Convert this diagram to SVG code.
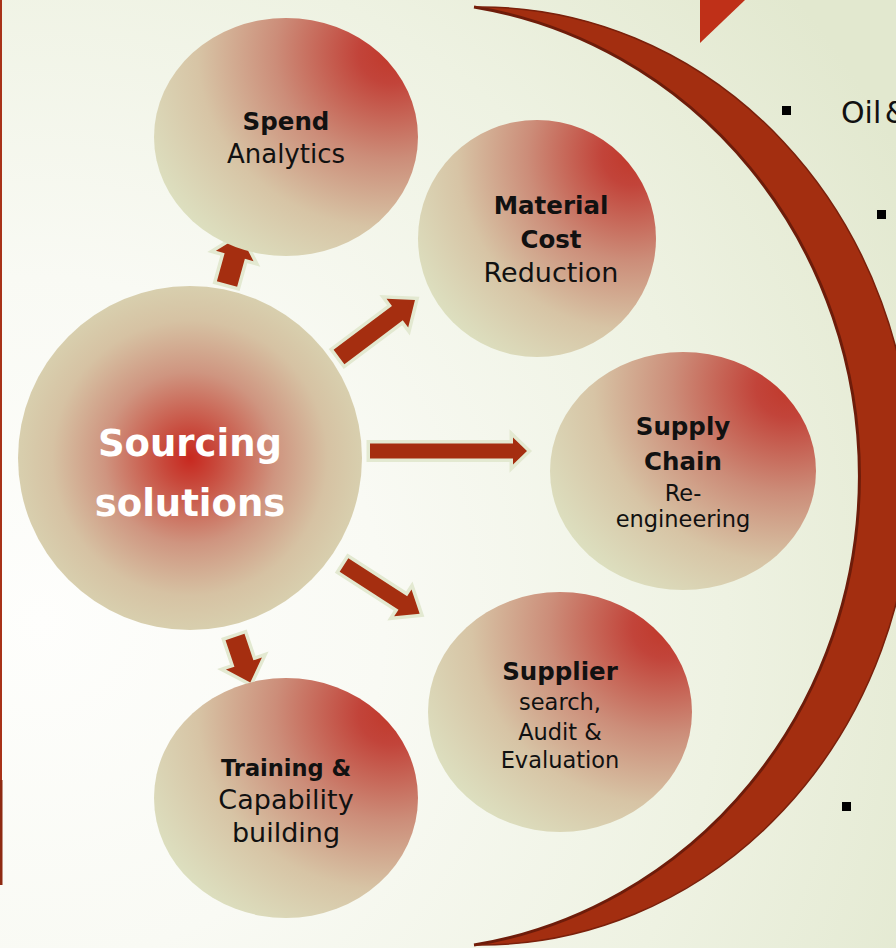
<svg xmlns="http://www.w3.org/2000/svg" width="896" height="948" viewBox="0 0 896 948">
<defs>
<radialGradient id="bg" cx="40" cy="620" r="980" gradientUnits="userSpaceOnUse">
<stop offset="0" stop-color="#fefefc"/>
<stop offset="0.35" stop-color="#f9faf4"/>
<stop offset="0.7" stop-color="#eef2e2"/>
<stop offset="1" stop-color="#e2e8cf"/>
</radialGradient>
<radialGradient id="small" cx="0.9" cy="0.15" r="1.05" fx="0.9" fy="0.15">
<stop offset="0" stop-color="#c0392b"/>
<stop offset="0.12" stop-color="#c2443a"/>
<stop offset="0.42" stop-color="#cc8d79"/>
<stop offset="0.7" stop-color="#d7c4a5"/>
<stop offset="1" stop-color="#dde1c1"/>
</radialGradient>
<radialGradient id="big" cx="0.5" cy="0.5" r="0.5">
<stop offset="0" stop-color="#c8281f"/>
<stop offset="0.15" stop-color="#c8473a"/>
<stop offset="0.5" stop-color="#cf9580"/>
<stop offset="0.8" stop-color="#d6c2a3"/>
<stop offset="1" stop-color="#d8cfae"/>
</radialGradient>
</defs>
<style>
.node{fill:url(#small)}
.t{font-family:"DejaVu Sans",sans-serif;fill:#111;text-anchor:middle}
.b{font-weight:bold;font-size:24.5px}
.r{font-size:27px}
.s{font-size:22.5px}
.arrow{fill:#a52e10;stroke:#e3e9d1;stroke-width:7;stroke-linejoin:miter;paint-order:stroke}
.bul{fill:#000}
</style>
<rect width="896" height="948" fill="url(#bg)"/>
<rect x="0" y="0" width="2" height="780" fill="#a83218"/>
<rect x="0" y="780" width="2.5" height="105" fill="#8e2a12"/>
<polygon points="700,0 745,0 700,43" fill="#bf3018"/>
<g id="crescent">
<path d="M474,7 A432 469.05 0 1 1 474,945 A458 475 0 0 0 474,7 Z" fill="#a32e10"/>
<path d="M474,945 A458 475 0 0 0 474,7" fill="none" stroke="#6e1c0a" stroke-width="3"/>
<path d="M474,7 A432 469.05 0 1 1 474,945" fill="none" stroke="#7a200b" stroke-width="1.5"/>
</g>
<g id="bullets">
<rect class="bul" x="782" y="106" width="9" height="9"/>
<rect class="bul" x="877" y="210" width="9" height="9"/>
<rect class="bul" x="842" y="802" width="9" height="9"/>
<text x="841" y="123" font-family="DejaVu Sans, sans-serif" font-size="30" word-spacing="-6" fill="#111">Oil &amp;</text>
</g>
<g id="connectors">
<path class="arrow" transform="translate(227,284) rotate(-74.5)" d="M0,-10.5 L29,-10.5 L29,-19.5 L50,0 L29,19.5 L29,10.5 L0,10.5 Z"/>
<path class="arrow" transform="translate(339,357) rotate(-36.9)" d="M0,-9 L73,-9 L73,-18 L95,0 L73,18 L73,9 L0,9 Z"/>
<path class="arrow" transform="translate(370,451)" d="M0,-7.5 L143,-7.5 L143,-13.5 L157,0 L143,13.5 L143,7.5 L0,7.5 Z"/>
<path class="arrow" transform="translate(344,565) rotate(32.8)" d="M0,-8 L70,-8 L70,-16 L90,0 L70,16 L70,8 L0,8 Z"/>
<path class="arrow" transform="translate(235,637) rotate(71.4)" d="M0,-10 L28,-10 L28,-19 L48,0 L28,19 L28,10 L0,10 Z"/>
</g>
<g id="spend">
<ellipse class="node" cx="286" cy="137" rx="132" ry="119"/>
<text class="t b" x="286" y="130">Spend</text>
<text class="t r" x="286" y="163" style="font-size:26px">Analytics</text>
</g>
<g id="material">
<ellipse class="node" cx="537" cy="238.5" rx="119" ry="118.5"/>
<text class="t b" x="551" y="214">Material</text>
<text class="t b" x="551" y="248">Cost</text>
<text class="t r" x="551" y="282">Reduction</text>
</g>
<g id="supply">
<ellipse class="node" cx="683" cy="471" rx="133" ry="119"/>
<text class="t b" x="683" y="435">Supply</text>
<text class="t b" x="683" y="470">Chain</text>
<text class="t s" x="683" y="501">Re-</text>
<text class="t s" x="683" y="527">engineering</text>
</g>
<g id="supplier">
<ellipse class="node" cx="560" cy="712" rx="132" ry="120"/>
<text class="t b" x="560" y="680">Supplier</text>
<text class="t s" x="560" y="710">search,</text>
<text class="t s" x="560" y="740">Audit &amp;</text>
<text class="t s" x="560" y="768">Evaluation</text>
</g>
<g id="training">
<ellipse class="node" cx="286" cy="798" rx="132" ry="120"/>
<text class="t b" x="286" y="776" style="font-size:22.5px">Training &amp;</text>
<text class="t r" x="286" y="809">Capability</text>
<text class="t r" x="286" y="842">building</text>
</g>
<g id="sourcing">
<circle cx="190" cy="458" r="172" fill="url(#big)"/>
<text x="190" y="456" font-family="DejaVu Sans, sans-serif" font-weight="bold" font-size="37" fill="#fff" text-anchor="middle">Sourcing</text>
<text x="190" y="516" font-family="DejaVu Sans, sans-serif" font-weight="bold" font-size="37" fill="#fff" text-anchor="middle">solutions</text>
</g>
</svg>
